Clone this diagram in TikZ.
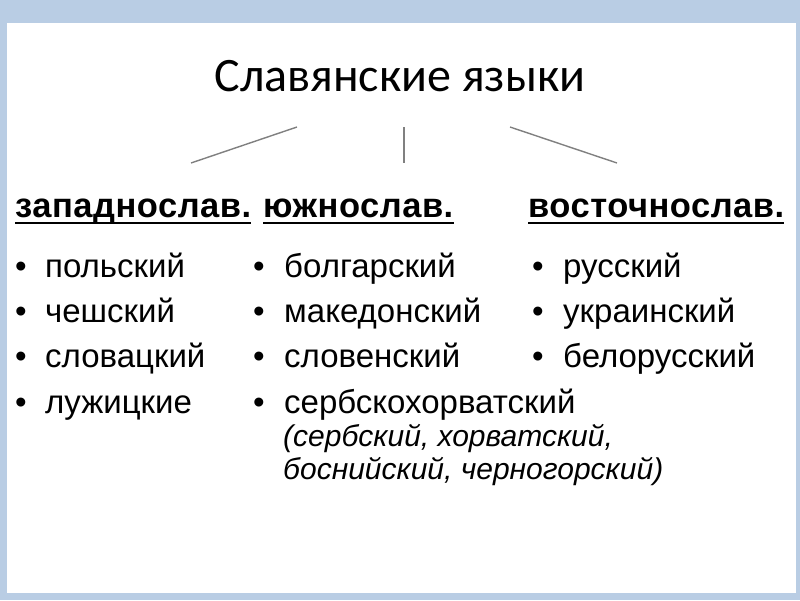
\documentclass[tikz,border=0pt]{standalone}
\usepackage{fontspec}
\setmainfont{Liberation Sans}
\newfontfamily\titlefont{Carlito}
\newfontfamily\hdrfont[LetterSpace=1.5]{Liberation Sans}
\definecolor{slideblue}{RGB}{185,205,228}
\definecolor{linegray}{RGB}{128,128,128}
\begin{document}
\begin{tikzpicture}[x=1pt,y=-1pt,
  txt/.style={inner sep=0pt,anchor=base west,font=\fontsize{33}{38}\selectfont},
  hdr/.style={inner sep=0pt,anchor=base west,font=\hdrfont\fontsize{34.5}{38}\selectfont\bfseries},
  bul/.style={inner sep=0pt,anchor=base,font=\fontsize{33}{38}\selectfont},
  sub/.style={inner sep=0pt,anchor=base west,font=\fontsize{30}{34}\selectfont\itshape},
  branch/.style={draw=linegray,line width=1.4pt},
  uline/.style={draw=black,line width=2.6pt}]
\useasboundingbox (0,0) rectangle (800,600);
\fill[slideblue] (0,0) rectangle (800,600);
\fill[white] (7,23) rectangle (796,593);
% title
\node[inner sep=0pt,anchor=base,font=\titlefont\fontsize{48}{54}\selectfont] (title) at (400,91) {Славянские языки};
% branches
\coordinate (l1) at (297,127); \coordinate (l2) at (191,163);
\coordinate (m1) at (404,127); \coordinate (m2) at (404,163);
\coordinate (r1) at (510,127); \coordinate (r2) at (617,163);
\draw[branch] (l1) -- (l2);
\draw[branch] (m1) -- (m2);
\draw[branch] (r1) -- (r2);
% headers
\node[hdr] (h1) at (15,217) {западнослав.};
\node[hdr] (h2) at (263,217) {южнослав.};
\node[hdr] (h3) at (528,217) {восточнослав.};
\draw[uline] ([yshift=-6pt]h1.base west) -- ([yshift=-6pt]h1.base east);
\draw[uline] ([yshift=-6pt]h2.base west) -- ([yshift=-6pt]h2.base east);
\draw[uline] ([yshift=-6pt]h3.base west) -- ([yshift=-6pt]h3.base east);
% column 1
\node[bul] (b11) at (21,277) {•}; \node[txt] (a11) at (45,277) {польский};
\node[bul] (b12) at (21,322) {•}; \node[txt] (a12) at (45,322) {чешский};
\node[bul] (b13) at (21,367) {•}; \node[txt] (a13) at (45,367) {словацкий};
\node[bul] (b14) at (21,413) {•}; \node[txt] (a14) at (45,413) {лужицкие};
% column 2
\node[bul] (b21) at (259,277) {•}; \node[txt] (a21) at (284,277) {болгарский};
\node[bul] (b22) at (259,322) {•}; \node[txt] (a22) at (284,322) {македонский};
\node[bul] (b23) at (259,367) {•}; \node[txt] (a23) at (284,367) {словенский};
\node[bul] (b24) at (259,413) {•}; \node[txt] (a24) at (284,413) {сербскохорватский};
\node[sub] (s1) at (283,446) {(сербский, хорватский,};
\node[sub] (s2) at (283,479) {боснийский, черногорский)};
% column 3
\node[bul] (b31) at (538,277) {•}; \node[txt] (a31) at (563,277) {русский};
\node[bul] (b32) at (538,322) {•}; \node[txt] (a32) at (563,322) {украинский};
\node[bul] (b33) at (538,367) {•}; \node[txt] (a33) at (563,367) {белорусский};
\end{tikzpicture}
\end{document}
